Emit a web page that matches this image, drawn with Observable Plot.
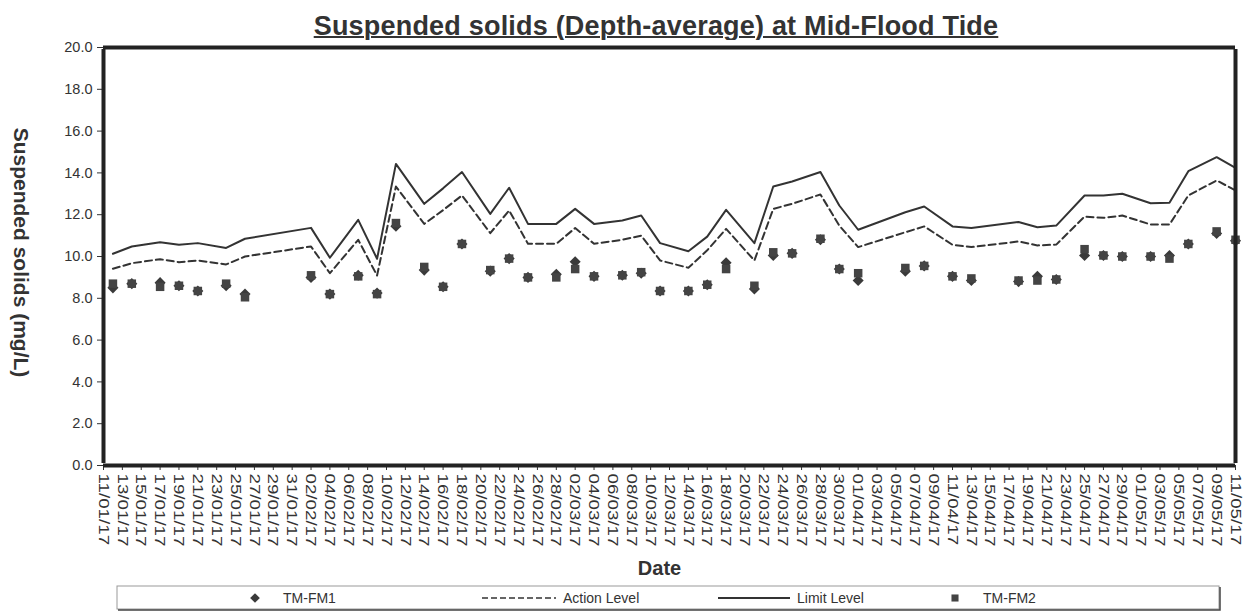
<!DOCTYPE html>
<html><head><meta charset="utf-8">
<script src="https://cdn.jsdelivr.net/npm/d3@7"></script>
<script src="https://cdn.jsdelivr.net/npm/@observablehq/plot@0.6"></script>
<style>
body{margin:0;background:#fff;font-family:"Liberation Sans",Arial,sans-serif;}
#wrap{position:relative;width:1250px;height:615px;overflow:hidden;}
#title{position:absolute;left:0;top:11px;width:1312px;text-align:center;font-weight:bold;font-size:27px;letter-spacing:0.2px;text-decoration:underline;text-decoration-thickness:2px;color:#333;}
#chart{position:absolute;left:0;top:40px;}
#legend{position:absolute;left:0;top:580px;}
</style></head><body>
<div id="wrap"><div id="title">Suspended solids (Depth-average) at Mid-Flood Tide</div><div id="chart"></div><div id="legend"></div></div>
<script>
const dates = ["12/01/17","14/01/17","17/01/17","19/01/17","21/01/17","24/01/17","26/01/17",
"02/02/17","04/02/17","07/02/17","09/02/17","11/02/17","14/02/17","16/02/17","18/02/17","21/02/17","23/02/17","25/02/17","28/02/17",
"02/03/17","04/03/17","07/03/17","09/03/17","11/03/17","14/03/17","16/03/17","18/03/17","21/03/17","23/03/17","25/03/17","28/03/17","30/03/17",
"01/04/17","06/04/17","08/04/17","11/04/17","13/04/17","18/04/17","20/04/17","22/04/17","25/04/17","27/04/17","29/04/17",
"02/05/17","04/05/17","06/05/17","09/05/17","11/05/17"];
const tmFm1 = [8.5,8.7,8.75,8.6,8.35,8.6,8.2,
9.0,8.2,9.1,8.25,11.45,9.35,8.55,10.6,9.3,9.9,9.0,9.15,
9.75,9.05,9.1,9.2,8.35,8.35,8.65,9.7,8.45,10.05,10.15,10.8,9.4,
8.85,9.3,9.55,9.05,8.85,8.8,9.05,8.9,10.05,10.05,10.0,
10.0,10.05,10.6,11.1,10.75];
const tmFm2 = [8.7,8.7,8.55,8.6,8.35,8.7,8.05,
9.1,8.2,9.05,8.2,11.6,9.5,8.55,10.6,9.35,9.9,9.0,9.0,
9.4,9.05,9.1,9.25,8.35,8.35,8.65,9.4,8.6,10.2,10.15,10.85,9.4,
9.2,9.45,9.55,9.05,8.95,8.85,8.85,8.9,10.35,10.05,10.0,
10.0,9.9,10.6,11.2,10.8];
const actionLevel = [9.41,9.68,9.87,9.73,9.81,9.62,10.0,
10.48,9.2,10.8,9.09,13.35,11.56,12.22,12.92,11.12,12.2,10.61,10.61,
11.36,10.61,10.8,11.0,9.81,9.46,10.3,11.32,9.81,12.28,12.52,12.97,11.48,
10.45,11.16,11.44,10.56,10.45,10.72,10.53,10.57,11.91,11.85,11.96,
11.53,11.53,12.92,13.64,13.16];
const limitLevel = [10.13,10.48,10.68,10.56,10.64,10.41,10.85,
11.37,9.94,11.75,9.89,14.43,12.52,13.26,14.04,12.04,13.29,11.56,11.56,
12.28,11.56,11.72,11.96,10.64,10.25,10.95,12.23,10.64,13.35,13.59,14.04,12.44,
11.28,12.12,12.39,11.44,11.36,11.65,11.4,11.48,12.92,12.92,13.0,
12.55,12.57,14.08,14.75,14.24];
const yTicks = [0,2,4,6,8,10,12,14,16,18,20];
const yDomain = [0,20];
const axisStart = "11/01/17", axisEnd = "11/05/17";
const yTitle = "Suspended solids (mg/L)";
const xTitle = "Date";
const legendItems = ["TM-FM1","Action Level","Limit Level","TM-FM2"];

const parse = d3.utcParse("%d/%m/%y");
const fmt = d3.utcFormat("%d/%m/%y");
const rows = dates.map((d,i)=>({date:parse(d), fm1:tmFm1[i], fm2:tmFm2[i], action:actionLevel[i], limit:limitLevel[i]}));
const x0 = parse(axisStart), x1 = parse(axisEnd);
const xTicks = d3.utcDay.range(x0, d3.utcDay.offset(x1,1)).filter((d,i)=>i%2===0);
const ink = "#333";

const chart = Plot.plot({
  width:1250, height:540,
  marginLeft:103, marginRight:15, marginTop:7, marginBottom:115,
  style:{fontFamily:"'Liberation Sans', Arial, sans-serif", color:ink, background:"white", fontSize:"15px"},
  x:{type:"utc", domain:[x0,x1], label:null},
  y:{domain:yDomain, label:null},
  marks:[
    Plot.axisX({ticks:xTicks, tickFormat:fmt, tickRotate:90, tickSize:5, tickPadding:3, fontSize:15, label:null}),
    Plot.axisY({ticks:yTicks, tickFormat:d=>d.toFixed(1), tickSize:6, tickPadding:5, fontSize:14.5, label:null}),
    Plot.line(rows,{x:"date", y:"action", stroke:ink, strokeWidth:2, strokeDasharray:"7,4"}),
    Plot.line(rows,{x:"date", y:"limit", stroke:ink, strokeWidth:2}),
    Plot.dot(rows,{x:"date", y:"fm1", symbol:"diamond2", r:5, fill:"#3a3a3a", stroke:"none"}),
    Plot.dot(rows,{x:"date", y:"fm2", symbol:"square", r:4.8, fill:"#444", stroke:"none"}),
    // heavy plot-area border
    Plot.ruleY(yDomain, {stroke:"#222", strokeWidth:4}),
    Plot.ruleX([x0, x1], {stroke:"#222", strokeWidth:4, y1:yDomain[0], y2:yDomain[1], insetTop:-2, insetBottom:-2}),
    Plot.text([yTitle],{frameAnchor:"left", dx:-83, dy:-4, text:d=>d, rotate:90, textAnchor:"middle", fontSize:21, fontWeight:"bold", fill:ink}),
    Plot.text([xTitle],{frameAnchor:"bottom", dx:-10, dy:109, text:d=>d, fontSize:20, fontWeight:"bold", fill:ink})
  ]
});
document.getElementById("chart").appendChild(chart);
// stretch rotated date labels along their length, as in the reference
d3.select(chart).selectAll("g[aria-label='x-axis tick label'] text").each(function(){
  const t = this.getAttribute("transform") || "";
  if (!t.includes("scale")) this.setAttribute("transform", t + " scale(1.25,1)");
});

// legend
const lg = d3.select("#legend").append("svg").attr("width",1250).attr("height",35)
  .style("font-family","'Liberation Sans', Arial, sans-serif");
lg.append("rect").attr("x",117).attr("y",6).attr("width",1102).attr("height",23).attr("fill","none").attr("stroke","#999").attr("stroke-width",1);
lg.append("path").attr("d","M1220,7V30H118").attr("fill","none").attr("stroke","#444").attr("stroke-width",1.5);
const cy = 18;
lg.append("path").attr("d",d3.symbol(d3.symbolDiamond2, 60)()).attr("transform",`translate(255,${cy})`).attr("fill","#3a3a3a");
lg.append("text").attr("x",283).attr("y",cy+5).attr("font-size",14).attr("fill",ink).text(legendItems[0]);
lg.append("line").attr("x1",482).attr("x2",556).attr("y1",cy).attr("y2",cy).attr("stroke",ink).attr("stroke-width",1.5).attr("stroke-dasharray","6,3");
lg.append("text").attr("x",563).attr("y",cy+5).attr("font-size",14).attr("fill",ink).text(legendItems[1]);
lg.append("line").attr("x1",718).attr("x2",790).attr("y1",cy).attr("y2",cy).attr("stroke",ink).attr("stroke-width",2);
lg.append("text").attr("x",797).attr("y",cy+5).attr("font-size",14).attr("fill",ink).text(legendItems[2]);
lg.append("path").attr("d",d3.symbol(d3.symbolSquare, 50)()).attr("transform",`translate(955,${cy})`).attr("fill","#444");
lg.append("text").attr("x",983).attr("y",cy+5).attr("font-size",14).attr("fill",ink).text(legendItems[3]);
</script>
</body></html>
